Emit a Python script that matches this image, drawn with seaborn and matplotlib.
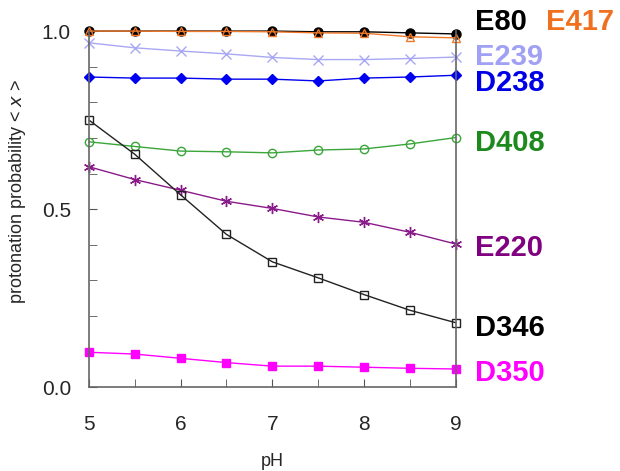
import numpy as np
import pandas as pd
import matplotlib
matplotlib.use("Agg")
import matplotlib.pyplot as plt
import seaborn as sns

# pH values (x axis)
ph = [5.0, 5.5, 6.0, 6.5, 7.0, 7.5, 8.0, 8.5, 9.0]

# protonation probabilities per residue
e80 = [1.0, 1.0, 1.0, 1.0, 1.0, 0.998, 0.998, 0.995, 0.992]
e417 = [1.0, 1.0, 0.999, 0.999, 0.998, 0.995, 0.994, 0.984, 0.981]
e239 = [0.967, 0.953, 0.944, 0.936, 0.926, 0.920, 0.920, 0.923, 0.927]
d238 = [0.871, 0.868, 0.868, 0.865, 0.865, 0.860, 0.868, 0.871, 0.876]
d408 = [0.689, 0.676, 0.663, 0.661, 0.658, 0.666, 0.669, 0.683, 0.701]
e220 = [0.619, 0.583, 0.553, 0.522, 0.502, 0.478, 0.463, 0.435, 0.402]
d346 = [0.750, 0.654, 0.540, 0.429, 0.352, 0.307, 0.260, 0.216, 0.181]
d350 = [0.098, 0.093, 0.081, 0.069, 0.059, 0.059, 0.056, 0.053, 0.051]

names = ["E80", "E417", "E239", "D238", "D408", "E220", "D346", "D350"]
values = [e80, e417, e239, d238, d408, e220, d346, d350]

df = pd.DataFrame({"pH": ph * len(names),
                   "prob": np.concatenate(values),
                   "residue": np.repeat(names, len(ph))})

# line color, label color, marker, marker size, filled
styles = {
    "E80": ("black", "black", "o", 6.5, True),
    "E417": ("#f07828", "#f07020", "^", 5.5, False),
    "E239": ("#a8a8f4", "#a0a0f4", "x", 6.5, True),
    "D238": ("#0000f0", "#0000e8", "D", 5, True),
    "D408": ("#3aa63a", "#1e8a1e", "o", 6, False),
    "E220": ("#8a1a8a", "#800080", (6, 2, 0), 8, True),
    "D346": ("#222222", "black", "s", 6, False),
    "D350": ("#ff00ff", "#ff00ff", "s", 6, True),
}

# text position of each label (data coords)
label_pos = {
    "E80": (9.21, 1.025), "E417": (9.99, 1.025), "E239": (9.21, 0.927),
    "D238": (9.21, 0.854), "D408": (9.21, 0.685), "E220": (9.21, 0.390),
    "D346": (9.21, 0.166), "D350": (9.21, 0.039),
}

sns.set_style("ticks")
plt.rcParams["font.family"] = ["Liberation Sans", "DejaVu Sans"]

fig = plt.figure(figsize=(6.2, 4.71), dpi=100)
ax = fig.add_axes([0.1435, 0.178, 0.5915, 0.756])

for name in names:
    color, lcolor, marker, ms, filled = styles[name]
    sub = df[df["residue"] == name]
    kw = dict(markerfacecolor=color if filled else "none",
              markeredgecolor=color, markersize=ms, markeredgewidth=1.0)
    sns.lineplot(data=sub, x="pH", y="prob", ax=ax, color=color, marker=marker,
                 linewidth=1.0, clip_on=False, legend=False, **kw)
    tx, ty = label_pos[name]
    ax.text(tx, ty, name, color=lcolor, fontsize=21, fontweight="bold",
            va="center", ha="left", clip_on=False)

ax.set_xlim(5, 9)
ax.set_ylim(0, 1.0)
ax.set_xticks([5, 6, 7, 8, 9])
ax.set_xticks(np.arange(5, 9.01, 0.5), minor=True)
ax.set_yticks([0.0, 0.5, 1.0])
ax.set_yticks(np.arange(0, 1.01, 0.1), minor=True)
ax.set_yticklabels(["0.0", "0.5", "1.0"])
ax.tick_params(axis="both", which="both", direction="in", length=6,
               color="#555555", labelsize=15)
ax.tick_params(axis="x", pad=20)
ax.tick_params(axis="y", pad=13)

ax.spines["top"].set_visible(False)
for s in ["left", "bottom", "right"]:
    ax.spines[s].set_color("#666666")
    ax.spines[s].set_linewidth(1.2)

ax.set_xlabel("pH", fontsize=13, labelpad=14)
ax.set_ylabel("protonation probability < $x$ >", fontsize=13)
ax.yaxis.set_label_coords(-0.165, 0.55)

fig.savefig("out.png", dpi=100)
